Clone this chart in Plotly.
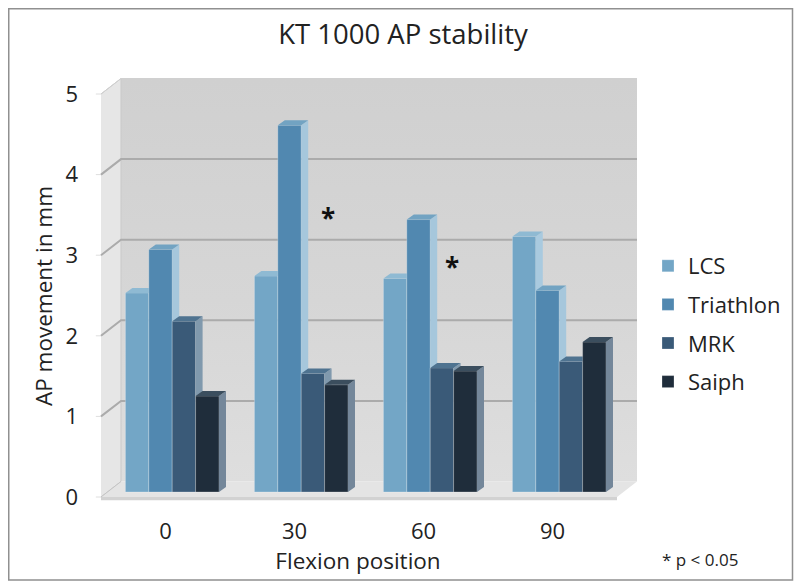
import plotly.graph_objects as go

# ---- data ----
categories = ["0", "30", "60", "90"]
series_names = ["LCS", "Triathlon", "MRK", "Saiph"]
lcs = [2.47, 2.68, 2.65, 3.17]
triathlon = [3.01, 4.55, 3.38, 2.50]
mrk = [2.12, 1.47, 1.54, 1.62]
saiph = [1.19, 1.33, 1.50, 1.86]
y_ticks = [0, 1, 2, 3, 4, 5]

# ---- style ----
PAGE = 8  # the page's own margin around the figure
W, H = 802 - PAGE, 588 - PAGE
FONT = "Open Sans"
front_cols = ["#73a6c6", "#5188b0", "#3a5a78", "#1f2d3b"]
side_cols = ["#a9cadf", "#a6c7dc", "#8099ad", "#74879a"]
top_cols = ["#8fbad3", "#72a3c2", "#4f7390", "#3b4e5e"]
all_vals = [lcs, triathlon, mrk, saiph]

PX_PER_CAT = 129.0
PX_PER_UNIT = 80.6
FX0, FY0 = 101.0, 497.0       # front-left corner, value 0 (page pixels)
DOM_L, DOM_R, DOM_T, DOM_B = 66.0, 650.0, 68.0, 524.0
AXIS_X, AXIS_Y = 78.0, 508.0  # where the tick labels hang from
WALL_DX, WALL_DY = 20 / PX_PER_CAT, 15.5 / PX_PER_UNIT
SHIFT_DX, SHIFT_DY = 6.7 / PX_PER_CAT, 5.0 / PX_PER_UNIT
DEPTH_DX, DEPTH_DY = 7.0 / PX_PER_CAT, 5.0 / PX_PER_UNIT
BAR_W = 23.4 / PX_PER_CAT

px = lambda x: (x - PAGE) / W
py = lambda y: 1 - (y - PAGE) / H

x_range = [-0.5 + (DOM_L - FX0) / PX_PER_CAT, -0.5 + (DOM_R - FX0) / PX_PER_CAT]
y_range = [(FY0 - DOM_B) / PX_PER_UNIT, (FY0 - DOM_T) / PX_PER_UNIT]
XL, XR, YT = -0.5, 3.5, 5.0

fig = go.Figure()


def poly(xs, ys, color, gradient=None, line=None, **kw):
    t = dict(x=xs, y=ys, mode="lines", fill="toself", hoverinfo="skip",
             showlegend=False, line=dict(width=line[1] if line else 0, color=line[0] if line else color))
    if gradient:
        t["fillgradient"] = gradient
    else:
        t["fillcolor"] = color
    t.update(kw)
    fig.add_trace(go.Scatter(**t))


def segs(xs, ys, color, width):
    fig.add_trace(go.Scatter(x=xs, y=ys, mode="lines", line=dict(color=color, width=width),
                             hoverinfo="skip", showlegend=False))


# back wall
poly([XL + WALL_DX, XR + WALL_DX, XR + WALL_DX, XL + WALL_DX],
     [WALL_DY, WALL_DY, YT + WALL_DY, YT + WALL_DY], "#d4d4d4",
     gradient=dict(type="vertical", colorscale=[[0, "#dedede"], [0.45, "#d6d6d6"], [1, "#d0d0d0"]]))
# left wall
poly([XL, XL + WALL_DX, XL + WALL_DX, XL],
     [0, WALL_DY, YT + WALL_DY, YT], "#e6e6e6", line=("#c9c9c9", 1))
# floor
poly([XL, XR, XR + WALL_DX, XL + WALL_DX], [0, 0, WALL_DY, WALL_DY], "#e4e4e4")
poly([XL, XR, XR, XL], [0, 0, -0.04, -0.04], "#d2d2d2")
# grid lines and faint tick stubs
for v in y_ticks[1:]:
    col = "#d0d0d0" if v == 5 else "#ababab"
    segs([XL - 0.04, XL], [v, v], "#dedede", 1)
    segs([XL, XL + WALL_DX, XR + WALL_DX], [v, v + WALL_DY, v + WALL_DY], col, 2 if v < 5 else 1)
segs([XL - 0.04, XL], [0, 0], "#dedede", 1)
segs([XL, XL + WALL_DX], [0, WALL_DY], "#c4c4c4", 1)

# bars: one overlaid subplot per series so that later series hide earlier side faces
for s, (name, vals) in enumerate(zip(series_names, all_vals)):
    ax = s + 2
    xa, ya = f"x{ax}", f"y{ax}"
    xpos = [g + (s - 1.5) * BAR_W for g in range(len(categories))]
    fig.add_trace(go.Bar(x=xpos, y=vals, width=BAR_W, name=name, xaxis=xa, yaxis=ya,
                         marker=dict(color=front_cols[s], line=dict(color="rgba(255,255,255,0.25)", width=1)),
                         legendgroup=name))
    sx, sy, tx, ty = [], [], [], []
    for xc, v in zip(xpos, vals):
        r, l = xc + BAR_W / 2, xc - BAR_W / 2
        sx += [r, r + DEPTH_DX, r + DEPTH_DX, r, r, None]
        sy += [0, DEPTH_DY, v + DEPTH_DY, v, 0, None]
        tx += [l, l + DEPTH_DX, r + DEPTH_DX, r, l, None]
        ty += [v, v + DEPTH_DY, v + DEPTH_DY, v, v, None]
    poly(sx, sy, side_cols[s], xaxis=xa, yaxis=ya)
    poly(tx, ty, top_cols[s], xaxis=xa, yaxis=ya)

axes = dict(
    xaxis=dict(domain=[px(DOM_L), px(DOM_R)], range=x_range, anchor="free", position=py(AXIS_Y), tickmode="array",
               tickvals=list(range(len(categories))), ticktext=categories, showgrid=False, zeroline=False,
               showline=False, ticks="", ticklabelstandoff=8, tickfont=dict(size=22, color="#222"),
               title=dict(text="Flexion position", font=dict(size=22.5, color="#222"), standoff=4)),
    yaxis=dict(domain=[py(DOM_B), py(DOM_T)], range=y_range, anchor="free", position=px(AXIS_X), tickmode="array",
               tickvals=y_ticks, showgrid=False, zeroline=False, showline=False, ticks="",
               tickfont=dict(size=22, color="#222"),
               title=dict(text="AP movement in mm", font=dict(size=22.5, color="#222"), standoff=5)),
)
for s in range(len(series_names)):
    ax = s + 2
    axes[f"xaxis{ax}"] = dict(overlaying="x", anchor=f"y{ax}", visible=False,
                              range=[x_range[0] - SHIFT_DX, x_range[1] - SHIFT_DX])
    axes[f"yaxis{ax}"] = dict(overlaying="y", anchor=f"x{ax}", visible=False,
                              range=[y_range[0] - SHIFT_DY, y_range[1] - SHIFT_DY])

fig.update_layout(
    width=W, height=H, autosize=False, margin=dict(l=0, r=0, t=0, b=0, autoexpand=False),
    paper_bgcolor="white", plot_bgcolor="rgba(0,0,0,0)", font=dict(family=FONT, color="#222"),
    title=dict(text="KT 1000 AP stability", font=dict(size=27.5, color="#222"),
               x=px(403), xanchor="center", y=py(34), yanchor="middle"),
    barmode="overlay",
    legend=dict(x=px(648), y=py(245), xanchor="left", yanchor="top", tracegroupgap=7,
                font=dict(size=22, color="#222"), bgcolor="rgba(0,0,0,0)", itemwidth=30),
    shapes=[dict(type="rect", xref="paper", yref="paper", x0=0.75 / W, x1=px(792.5), y0=py(580), y1=1 - 0.75 / H,
                 line=dict(color="#909090", width=1.5), layer="below")],
    annotations=[
        dict(text="*", xref="paper", yref="paper", x=px(328), y=py(218), showarrow=False,
             xanchor="center", yanchor="middle",
             font=dict(size=26, color="#111", family=FONT, weight="bold")),
        dict(text="*", xref="paper", yref="paper", x=px(452), y=py(267), showarrow=False,
             xanchor="center", yanchor="middle",
             font=dict(size=26, color="#111", family=FONT, weight="bold")),
        dict(text="* p &lt; 0.05", xref="paper", yref="paper", x=px(700), y=py(559), showarrow=False,
             xanchor="center", yanchor="middle", font=dict(size=17, color="#222")),
    ],
    **axes,
)
fig.write_html("out.html")
